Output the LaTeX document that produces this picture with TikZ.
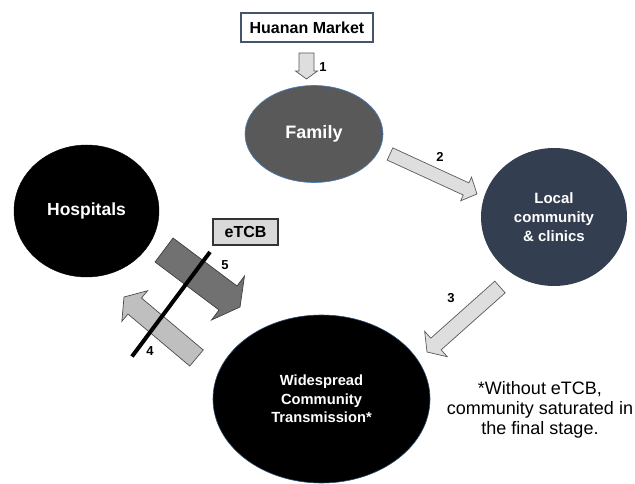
\documentclass[tikz,border=0pt]{standalone}
\usepackage{fontspec}
\setmainfont{Liberation Sans}
\usetikzlibrary{shapes.geometric,calc}

\definecolor{famgray}{HTML}{595959}
\definecolor{localblue}{HTML}{333F50}
\definecolor{edgeblue}{HTML}{4A7EBB}
\definecolor{boxblue}{HTML}{44546A}
\definecolor{lightfill}{HTML}{DEDEDE}
\definecolor{midfill}{HTML}{BFBFBF}
\definecolor{darkfill}{HTML}{717171}

% tail, tip, half shaft width, half head width, head length, style
\newcommand\blockarrow[6]{%
  \coordinate (babase) at ($(#2)!#5!(#1)$);
  \draw[#6] ($(#1)!#3!90:(#2)$) -- ($(babase)!#3!90:(#2)$) -- ($(babase)!#4!90:(#2)$)
    -- (#2) -- ($(babase)!#4!-90:(#2)$) -- ($(babase)!#3!-90:(#2)$) -- ($(#1)!#3!-90:(#2)$) -- cycle;}

\tikzset{
  blob/.style={ellipse, inner sep=0pt, align=center, text=white,
    font=\bfseries\fontsize{15}{19}\selectfont},
  labelbox/.style={draw, inner sep=0pt, font=\bfseries\fontsize{16}{19}\selectfont},
  lightarrow/.style={fill=lightfill, draw=black!65, line width=0.7pt, line join=miter},
  midarrow/.style={fill=midfill, draw=black!70, line width=0.7pt, line join=miter},
  darkarrow/.style={fill=darkfill, draw=black!75, line width=0.7pt, line join=miter},
  numlabel/.style={font=\bfseries\fontsize{13}{15}\selectfont, inner sep=0pt},
  notetext/.style={align=center, font=\fontsize{18}{20}\selectfont, inner sep=0pt},
}

\begin{document}
\begin{tikzpicture}[x=1pt, y=-1pt]
\useasboundingbox (0,0) rectangle (635,484);

% main nodes
\node[blob, fill=famgray, draw=edgeblue, line width=0.6pt,
      minimum width=138pt, minimum height=97pt,
      font=\bfseries\fontsize{18}{20}\selectfont] (family) at (314,134) {Family};
\node[blob, fill=black, draw=black, minimum width=145pt, minimum height=132pt,
      font=\bfseries\fontsize{17.5}{20}\selectfont] (hosp) at (86.5,211) {Hospitals};
\node[blob, fill=localblue, minimum width=146pt, minimum height=138pt,
      font=\bfseries\fontsize{15}{19}\selectfont] (local) at (554,217) {Local\\community\\\& clinics};
\node[blob, fill=black, draw=edgeblue!60!black, line width=0.6pt,
      minimum width=217pt, minimum height=168pt,
      font=\bfseries\fontsize{14.7}{18.5}\selectfont] (wide) at (321.5,399) {Widespread\\Community\\Transmission*};

% labelled boxes
\node[labelbox, draw=boxblue, line width=1.8pt, fill=white,
      minimum width=132pt, minimum height=29pt] (market) at (307,27.5) {Huanan Market};
\node[labelbox, draw=black!80, line width=1.3pt, fill=black!15,
      minimum width=65pt, minimum height=26pt] (etcb) at (245.5,232) {eTCB};

% arrow end points
\coordinate (a1t) at (306.5,53);  \coordinate (a1h) at (306.5,79);
\coordinate (a2t) at (390,154);   \coordinate (a2h) at (477,194);
\coordinate (a3t) at (500,287);   \coordinate (a3h) at (427,352);
\coordinate (a4t) at (196.5,358); \coordinate (a4h) at (124,297);
\coordinate (a5t) at (164,250);   \coordinate (a5h) at (240,307);

\blockarrow{a1t}{a1h}{7.5pt}{11pt}{8pt}{lightarrow}
\blockarrow{a2t}{a2h}{6.7pt}{13pt}{12pt}{lightarrow}
\blockarrow{a3t}{a3h}{7.8pt}{17pt}{12pt}{lightarrow}
\blockarrow{a4t}{a4h}{10.5pt}{20pt}{14pt}{midarrow}
\blockarrow{a5t}{a5h}{15pt}{27.5pt}{15pt}{darkarrow}

% blocking line
\coordinate (bl1) at (210,252);
\coordinate (bl2) at (132,356.5);
\draw[line width=4pt] (bl1) -- (bl2);

% number labels
\node[numlabel] (n1) at (323,67) {1};
\node[numlabel] (n2) at (440,157) {2};
\node[numlabel] (n3) at (451,298) {3};
\node[numlabel] (n4) at (150,351) {4};
\node[numlabel] (n5) at (225,265) {5};

% note
\node[notetext] (note) at (540,410) {*Without eTCB,\\community saturated in\\the final stage.};
\end{tikzpicture}
\end{document}
